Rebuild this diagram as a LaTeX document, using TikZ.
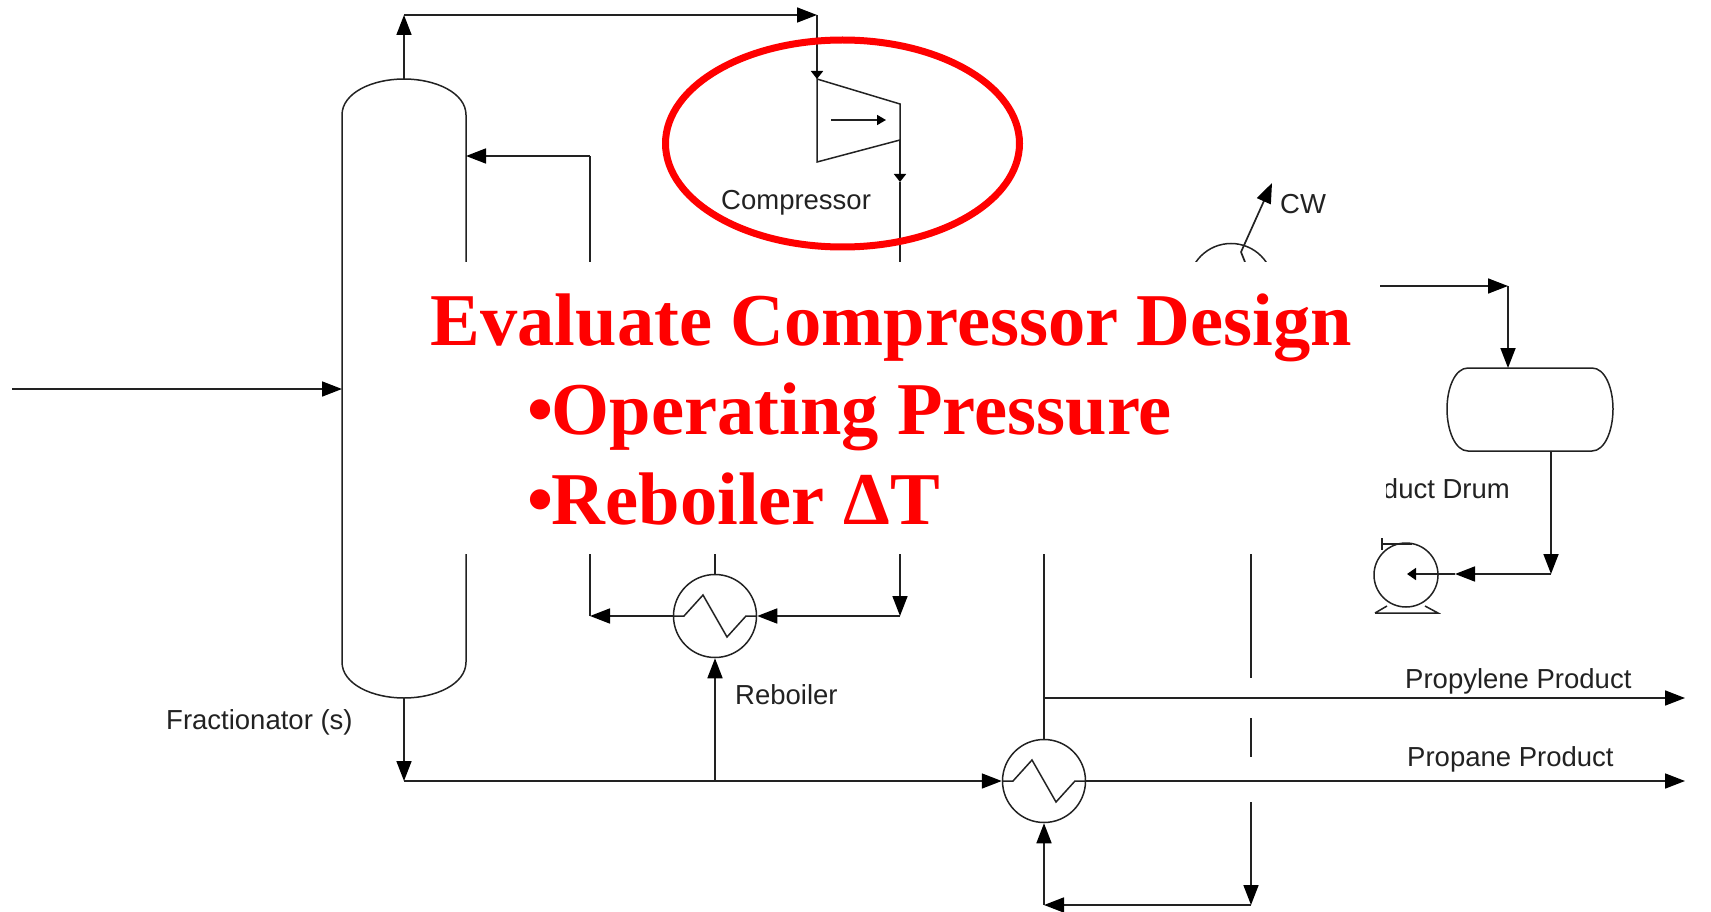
\documentclass[tikz,border=0pt]{standalone}
\usepackage{fontspec}
\setmainfont{Liberation Sans}
\newfontfamily\redserif{Liberation Serif}[BoldFont={Liberation Serif Bold}]
\usetikzlibrary{arrows.meta,shapes.geometric}
\definecolor{ink}{HTML}{222222}
\tikzset{
  pipe/.style={draw=ink,line width=1.7pt,line join=miter},
  big/.style={pipe,-{Triangle[length=20pt,width=15pt,color=black]}},
  small/.style={pipe,-{Triangle[length=8pt,width=12pt,color=black]}},
  vessel/.style={draw=ink,line width=1.5pt,fill=none},
  hx/.style={circle,draw=ink,line width=1.5pt,minimum size=83pt,inner sep=0pt},
  lbl/.style={anchor=base west,inner sep=0pt,text=ink,font=\fontsize{27.5}{30}\selectfont},
  headline/.style={anchor=base west,inner sep=0pt,text=red,font=\redserif\bfseries\fontsize{74.5}{80}\selectfont},
  zigzag/.pic={\draw[draw=ink,line width=1.5pt] (-41,0)--(-31,0)--(-12,-21)--(12,21)--(31,0)--(41,0);}
}
\begin{document}
\begin{tikzpicture}[x=1pt,y=-1pt]
\useasboundingbox (0,0) rectangle (1711,912);
% coordinates
\coordinate (feed) at (12,389);
\coordinate (colL) at (342,389);
\coordinate (colT) at (404,79);
\coordinate (colB) at (404,698);
\coordinate (colR) at (466,156);
\coordinate (topA) at (404,15);
\coordinate (topB) at (817,15);
\coordinate (compIn) at (817,79);
\coordinate (compA) at (900,104);
\coordinate (compOut) at (900,140);
\coordinate (compC) at (817,162);
\coordinate (compArrA) at (831,120);
\coordinate (compArrB) at (886,120);
\coordinate (midOut) at (900,182);
\coordinate (rbElbow) at (900,616);
\coordinate (rfxElbow) at (590,616);
\coordinate (rfxTop) at (590,156);
\coordinate (botElbow) at (404,781);
\coordinate (tee) at (715,781);
\coordinate (rbUp) at (715,554);
\coordinate (exUp) at (1044,554);
\coordinate (branch) at (1044,698);
\coordinate (propyEnd) at (1685,698);
\coordinate (propaEnd) at (1685,781);
\coordinate (dashA) at (1251,554);
\coordinate (dashB) at (1251,678);
\coordinate (dashC) at (1251,718);
\coordinate (dashD) at (1251,757);
\coordinate (dashE) at (1251,802);
\coordinate (retR) at (1251,905);
\coordinate (retL) at (1044,905);
\coordinate (cwEnd) at (1272,183);
\coordinate (cwKink) at (1241,252);
\coordinate (cwIn) at (1245,262);
\coordinate (ovhdElbow) at (1508,286);
\coordinate (drumTop) at (1508,368);
\coordinate (drumBot) at (1551,451);
\coordinate (pumpElbow) at (1551,574);
\coordinate (pumpMid) at (1455,574);
\coordinate (pumpEye) at (1407,574);
\coordinate (nubL) at (1382,544);
\coordinate (nubR) at (1412,544);
% exchangers and pump
\node[hx] (reb) at (715,616) {};
\pic at (reb.center) {zigzag};
\node[hx] (exch) at (1044,781) {};
\pic at (exch.center) {zigzag};
\node[hx,minimum size=85pt] (cond) at (1231,286) {};
\node[hx,minimum size=64pt] (pump) at (1406,575) {};
% column
\draw[vessel] (342,115) .. controls (342,93) and (372,79) .. (colT) .. controls (436,79) and (466,93) .. (466,115) -- (466,662) .. controls (466,684) and (436,698) .. (colB) .. controls (372,698) and (342,684) .. (342,662) -- cycle;
% drum
\draw[vessel] (1468,368) -- (1592,368) .. controls (1605,368) and (1613,388) .. (1613,409) .. controls (1613,430) and (1605,451) .. (1592,451) -- (1468,451) .. controls (1455,451) and (1447,430) .. (1447,409) .. controls (1447,388) and (1455,368) .. (1468,368) -- cycle;
% compressor
\draw[vessel] (compIn) -- (compA) -- (compOut) -- (compC) -- cycle;
\draw[pipe,-{Triangle[length=9pt,width=10pt,color=black]}] (compArrA) -- (compArrB);
% pump base
\draw[vessel] (1375,613) -- (1438,613) -- (1425,606) (1375,613) -- (1387,606);
% connectors
\draw[big] (feed) -- (colL);
\draw[big] (colT) -- (topA);
\draw[big] (topA) -- (topB);
\draw[small] (topB) -- (compIn);
\draw[small] (compOut) -- (midOut);
\draw[big] (midOut) -- (rbElbow);
\draw[big] (rbElbow) -- (reb.east);
\draw[big] (reb.west) -- (rfxElbow);
\draw[pipe] (rfxElbow) -- (rfxTop);
\draw[big] (rfxTop) -- (colR);
\draw[pipe] (reb.north) -- (rbUp);
\draw[big] (colB) -- (botElbow);
\draw[pipe] (botElbow) -- (tee);
\draw[big] (tee) -- (reb.south);
\draw[big] (tee) -- (exch.west);
\draw[big] (exch.east) -- (propaEnd);
\draw[pipe] (exch.north) -- (exUp);
\draw[big] (branch) -- (propyEnd);
\draw[pipe] (dashA) -- (dashB);
\draw[pipe] (dashC) -- (dashD);
\draw[big] (dashE) -- (retR);
\draw[big] (retR) -- (retL);
\draw[big] (retL) -- (exch.south);
\draw[big] (cwKink) -- (cwEnd);
\draw[pipe] (cwIn) -- (cwKink);
\draw[big] (cond.east) -- (ovhdElbow);
\draw[big] (ovhdElbow) -- (drumTop);
\draw[big] (drumBot) -- (pumpElbow);
\draw[big] (pumpElbow) -- (pumpMid);
\draw[pipe,-{Triangle[length=9pt,width=12pt,color=black]}] (pumpMid) -- (pumpEye);
% labels
\node[lbl] (lblComp) at (721,210) {Compressor};
\node[lbl] (lblCW) at (1280,214) {CW};
\node[lbl] (lblFrac) at (166,729) {Fractionator (s)};
\node[lbl] (lblReb) at (735,704) {Reboiler};
\node[lbl] (lblPropy) at (1405,688) {Propylene Product};
\node[lbl] (lblPropa) at (1407,766) {Propane Product};
\node[lbl,anchor=base east] (lblDrum) at (1510,498) {duct Drum};
% white panel over the diagram
\fill[white] (420,262) rectangle (1380,554);
\fill[white] (1376,470) rectangle (1386,505);
% pump nub, in front of the panel
\draw[vessel] (nubL) -- (nubR);
\draw[vessel] (1382,538) -- (1382,550);
% red ellipse
\node[ellipse,draw=red,line width=7pt,minimum width=354pt,minimum height=207pt,inner sep=0pt] (ring) at (842.5,143.5) {};
% headline
\node[headline] (h1) at (430.5,345) {Evaluate Compressor Design};
\node[headline] (h2) at (527,434) {•\kern-1.5pt Operating Pressure};
\node[headline] (h3) at (527,524) {•\kern-1.5pt Reboiler ΔT};
\end{tikzpicture}
\end{document}
